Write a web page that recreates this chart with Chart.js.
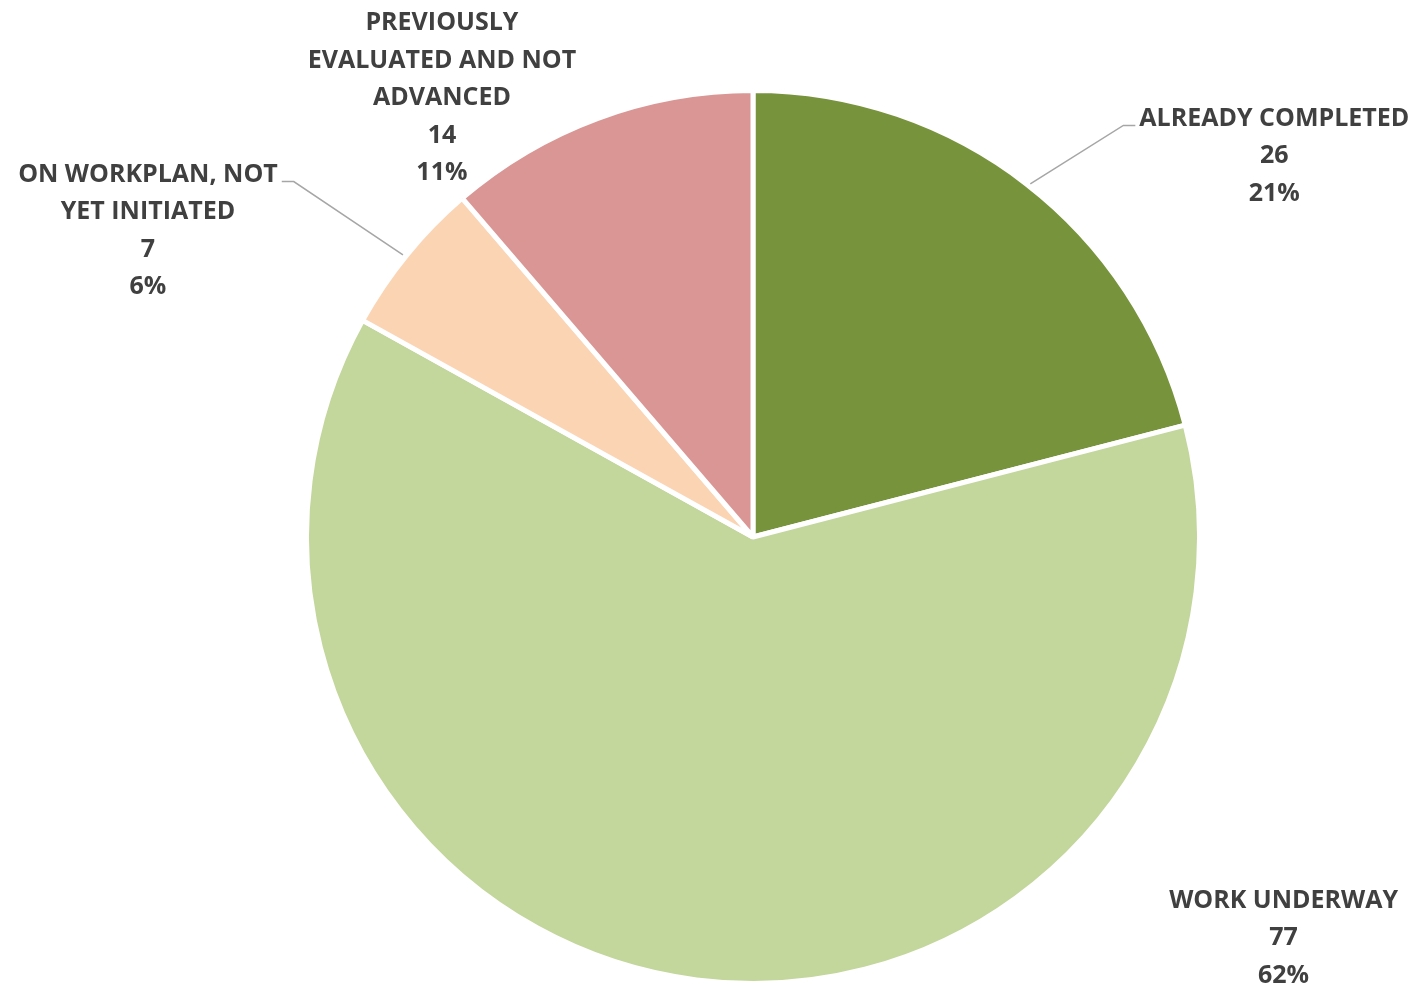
<!DOCTYPE html>
<html>
<head>
<meta charset="utf-8">
<script src="https://cdn.jsdelivr.net/npm/chart.js@4.4.1/dist/chart.umd.min.js"></script>
<style>
  html, body { margin: 0; padding: 0; background: #fff; }
  #wrap { width: 1416px; height: 986px; }
</style>
</head>
<body>
<div id="wrap"><canvas id="myChart" width="1416" height="986"></canvas></div>
<script>
var categories = [
    ['ALREADY COMPLETED'],
    ['WORK UNDERWAY'],
    ['ON WORKPLAN, NOT', 'YET INITIATED'],
    ['PREVIOUSLY', 'EVALUATED AND NOT', 'ADVANCED']
];
var counts = [26, 77, 7, 14];
var percentLabels = ['21%', '62%', '6%', '11%'];
var sliceColors = ['#77933C', '#C3D69B', '#FBD4B4', '#D99694'];

// where each label sits relative to the outer middle of its slice (pixels), and whether it gets a leader line
var labelLayout = [
    { dx: 248, dy: -28, leader: true },
    { dx: 587, dy: -42, leader: false },
    { dx: -259, dy: -24, leader: true },
    { dx: -156, dy: -20, leader: false }
];

var labelFont = 'bold 25px "Open Sans"';

var sliceLabels = {
    id: 'sliceLabels',
    afterDraw: function(chart) {
        var ctx = chart.ctx;
        var meta = chart.getDatasetMeta(0);
        var lineH = 37.5;
        ctx.save();
        ctx.font = labelFont;
        ctx.textAlign = 'center';
        ctx.textBaseline = 'middle';
        meta.data.forEach(function(arc, i) {
            var mid = (arc.startAngle + arc.endAngle) / 2;
            var ex = arc.x + Math.cos(mid) * arc.outerRadius;
            var ey = arc.y + Math.sin(mid) * arc.outerRadius;
            var lay = labelLayout[i];
            var lines = categories[i].concat([String(counts[i]), percentLabels[i]]);
            var cx = ex + lay.dx;
            var cy = ey + lay.dy;
            var top = cy - (lines.length - 1) * lineH / 2;
            if (lay.leader) {
                var w = ctx.measureText(lines[0]).width;
                var side = lay.dx > 0 ? -1 : 1;
                var endX = cx + side * (w / 2 + 4);
                var elbowX = endX + side * 12;
                ctx.strokeStyle = '#A6A6A6';
                ctx.lineWidth = 1.5;
                ctx.beginPath();
                ctx.moveTo(ex + side * -4, ey);
                ctx.lineTo(elbowX, top + 7);
                ctx.lineTo(endX, top + 7);
                ctx.stroke();
            }
            ctx.fillStyle = '#404040';
            lines.forEach(function(t, k) {
                ctx.fillText(t, cx, top + k * lineH);
            });
        });
        ctx.restore();
    }
};

var ctx = document.getElementById('myChart').getContext('2d');
var myChart = new Chart(ctx, {
    type: 'pie',
    data: {
        labels: categories.map(function(c) { return c.join(' '); }),
        datasets: [{
            data: counts,
            backgroundColor: sliceColors,
            borderColor: '#FFFFFF',
            borderWidth: 5,
            hoverOffset: 0
        }]
    },
    options: {
        responsive: false,
        animation: false,
        layout: {
            padding: { left: 90, right: 0, top: 88, bottom: 0 }
        },
        plugins: {
            legend: { display: false },
            tooltip: { enabled: false }
        }
    },
    plugins: [sliceLabels]
});
</script>
</body>
</html>
